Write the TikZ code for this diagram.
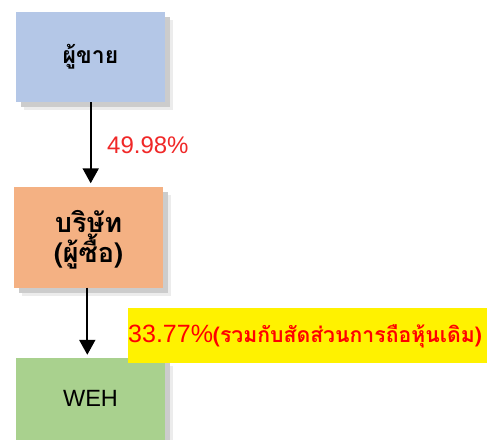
\documentclass[tikz,border=0pt]{standalone}
\usepackage{fontspec}
\usetikzlibrary{arrows.meta,shadows}
\newfontfamily\thai[Script=Thai]{Loma}
\newfontfamily\arial{Liberation Sans}
\definecolor{boxblue}{RGB}{180,199,231}
\definecolor{boxorange}{RGB}{244,177,131}
\definecolor{boxgreen}{RGB}{169,209,142}
\definecolor{labelred}{RGB}{240,40,40}
\tikzset{
  shadowbox/.style={rectangle, inner sep=0pt, minimum width=149pt,
    general shadow={shadow xshift=8pt, shadow yshift=-8pt, fill=gray!15},
    general shadow={shadow xshift=5pt, shadow yshift=-5pt, fill=gray!40}},
  conn/.style={line width=2pt, -{Triangle[width=16pt,length=15pt]}, shorten >=3pt},
}
\begin{document}
\begin{tikzpicture}[x=1pt,y=-1pt]
\clip (0,0) rectangle (487,439);
\fill[white] (0,0) rectangle (487,439);
\node[shadowbox, fill=boxblue, minimum height=90pt,
  font=\thai\bfseries\fontsize{23}{26}\selectfont] (seller) at (90.5,57) {ผู้ขาย};
\node[shadowbox, fill=boxorange, minimum height=101pt] (buyer) at (88.5,237) {};
\node[align=center, font=\thai\bfseries\fontsize{27}{28}\selectfont] (buyertext) at (88.5,240) {บริษัท\\(ผู้ซื้อ)};
\node[shadowbox, fill=boxgreen, minimum height=90pt] (weh) at (90.5,403) {};
\node[font=\arial\fontsize{23.5}{26}\selectfont] (wehtext) at (90.5,398.5) {WEH};
\draw[conn] ([xshift=0.2pt]seller.south) -- ([xshift=0.2pt]seller.south |- buyer.north);
\draw[conn] ([xshift=-1.2pt]buyer.south) -- ([xshift=-1.2pt]buyer.south |- weh.north);
\node[text=labelred, anchor=west, inner sep=0pt,
  font=\arial\fontsize{24}{28}\selectfont] (pct1) at (107,145.5) {49.98\%};
\node[fill=yellow, anchor=west, inner sep=0pt, minimum width=359pt, minimum height=55pt] (pct2) at (128,335.5) {};
\node[anchor=west, inner sep=0pt, text=red] (pct2text) at (128,336.5)
  {{\arial\fontsize{25}{28}\selectfont 33.77\%}{\thai\bfseries\fontsize{21.2}{26}\selectfont(รวมกับสัดส่วนการถือหุ้นเดิม)}};
\end{tikzpicture}
\end{document}
